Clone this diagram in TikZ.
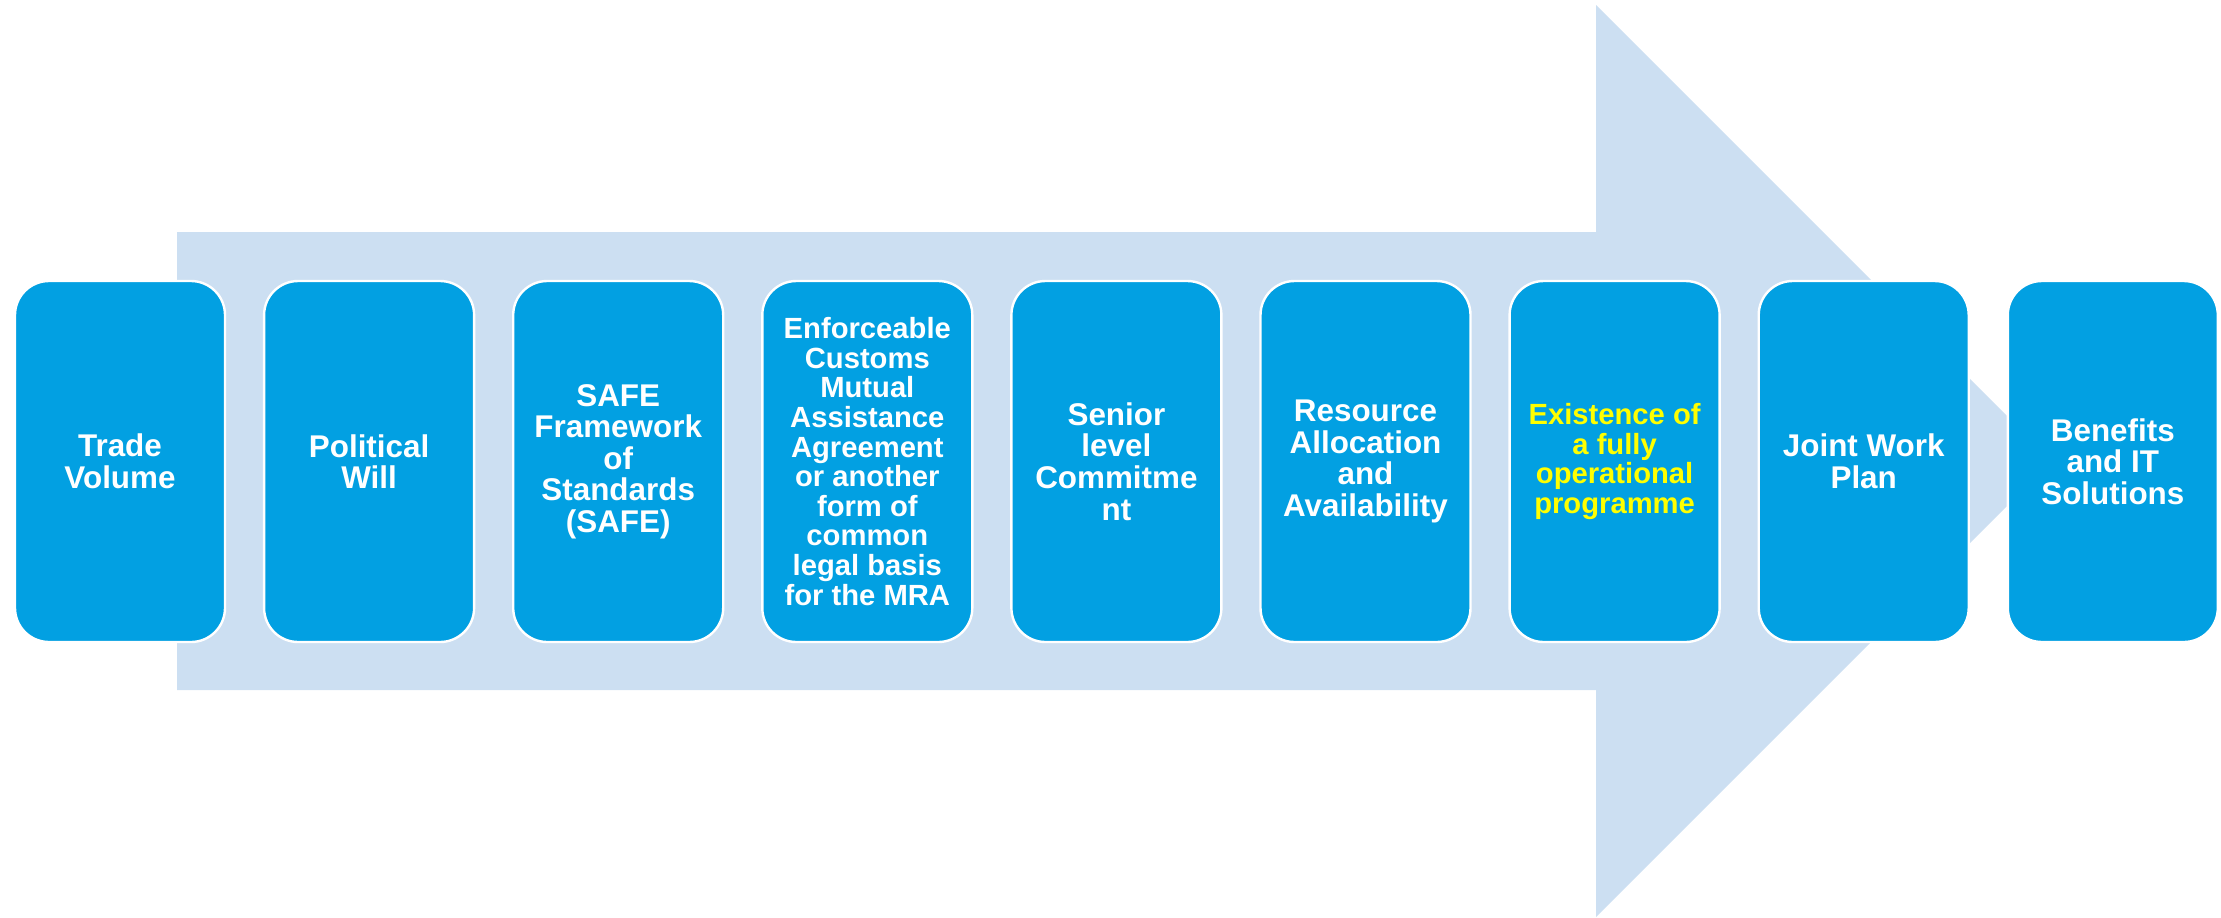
\documentclass[tikz,border=0pt]{standalone}
\usepackage{fontspec}
\setmainfont{Liberation Sans}
\definecolor{boxblue}{RGB}{2,160,226}
\definecolor{arrowblue}{RGB}{204,223,242}
\definecolor{hiyellow}{RGB}{255,255,0}
\tikzset{
  stagebox/.style={rectangle, rounded corners=17pt, fill=boxblue, draw=white, line width=1.2pt,
    minimum width=105pt, minimum height=180.5pt, inner sep=2pt, align=center,
    text=white, font=\bfseries\fontsize{15.7}{15.8}\selectfont},
  smalltext/.style={font=\bfseries\fontsize{14.6}{14.8}\selectfont},
  bigarrow/.style={fill=arrowblue, draw=none}
}
\begin{document}
\begin{tikzpicture}[x=0.5pt,y=-0.5pt]
\useasboundingbox (0,0) rectangle (2221,917);
\fill[bigarrow] (177,232) -- (1596,232) -- (1596,5) -- (2052,461) -- (1596,917) -- (1596,690) -- (177,690) -- cycle;
\node[stagebox] (b1) at (120,461.5) {Trade\\Volume};
\node[stagebox] (b2) at (369.1,461.5) {Political\\Will};
\node[stagebox] (b3) at (618.2,461.5) {SAFE\\Framework\\of\\Standards\\(SAFE)};
\node[stagebox,smalltext] (b4) at (867.3,461.5) {Enforceable\\Customs\\Mutual\\Assistance\\Agreement\\or another\\form of\\common\\legal basis\\for the MRA};
\node[stagebox] (b5) at (1116.4,461.5) {Senior\\level\\Commitme\\nt};
\node[stagebox] (b6) at (1365.5,461.5) {Resource\\Allocation\\and\\Availability};
\node[stagebox,smalltext,text=hiyellow] (b7) at (1614.6,461.5) {Existence of\\a fully\\operational\\programme};
\node[stagebox] (b8) at (1863.7,461.5) {Joint Work\\Plan};
\node[stagebox] (b9) at (2112.8,461.5) {Benefits\\and IT\\Solutions};
\end{tikzpicture}
\end{document}
